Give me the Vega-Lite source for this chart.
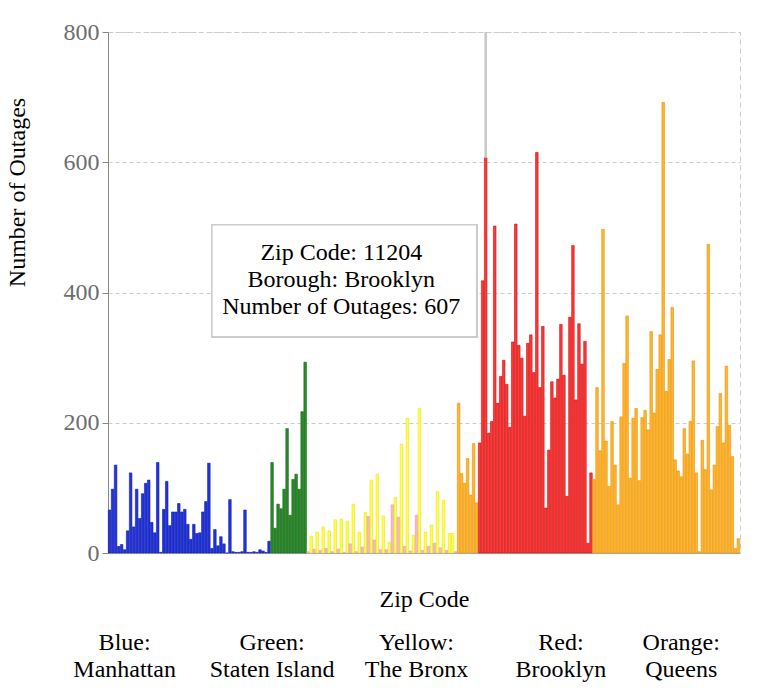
{
  "$schema": "https://vega.github.io/schema/vega-lite/v6.json",
  "width": 632,
  "height": 521,
  "autosize": {"type": "none"},
  "padding": {"left": 108, "top": 32, "right": 28, "bottom": 139},
  "config": {"view": {"stroke": "#cccccc", "strokeDash": [5, 4]}, "font": "Liberation Serif"},
  "data": {"values": [
    {"zip": "10001", "borough": "Manhattan", "outages": 66},
    {"zip": "10002", "borough": "Manhattan", "outages": 98},
    {"zip": "10003", "borough": "Manhattan", "outages": 135},
    {"zip": "10004", "borough": "Manhattan", "outages": 10},
    {"zip": "10005", "borough": "Manhattan", "outages": 13},
    {"zip": "10006", "borough": "Manhattan", "outages": 5},
    {"zip": "10007", "borough": "Manhattan", "outages": 34},
    {"zip": "10009", "borough": "Manhattan", "outages": 123},
    {"zip": "10010", "borough": "Manhattan", "outages": 40},
    {"zip": "10011", "borough": "Manhattan", "outages": 98},
    {"zip": "10012", "borough": "Manhattan", "outages": 53},
    {"zip": "10013", "borough": "Manhattan", "outages": 91},
    {"zip": "10014", "borough": "Manhattan", "outages": 107},
    {"zip": "10016", "borough": "Manhattan", "outages": 112},
    {"zip": "10017", "borough": "Manhattan", "outages": 47},
    {"zip": "10018", "borough": "Manhattan", "outages": 31},
    {"zip": "10019", "borough": "Manhattan", "outages": 139},
    {"zip": "10020", "borough": "Manhattan", "outages": 1},
    {"zip": "10021", "borough": "Manhattan", "outages": 67},
    {"zip": "10022", "borough": "Manhattan", "outages": 110},
    {"zip": "10023", "borough": "Manhattan", "outages": 42},
    {"zip": "10024", "borough": "Manhattan", "outages": 63},
    {"zip": "10025", "borough": "Manhattan", "outages": 63},
    {"zip": "10026", "borough": "Manhattan", "outages": 76},
    {"zip": "10027", "borough": "Manhattan", "outages": 63},
    {"zip": "10028", "borough": "Manhattan", "outages": 67},
    {"zip": "10029", "borough": "Manhattan", "outages": 44},
    {"zip": "10030", "borough": "Manhattan", "outages": 21},
    {"zip": "10031", "borough": "Manhattan", "outages": 44},
    {"zip": "10032", "borough": "Manhattan", "outages": 30},
    {"zip": "10033", "borough": "Manhattan", "outages": 31},
    {"zip": "10034", "borough": "Manhattan", "outages": 63},
    {"zip": "10035", "borough": "Manhattan", "outages": 79},
    {"zip": "10036", "borough": "Manhattan", "outages": 138},
    {"zip": "10037", "borough": "Manhattan", "outages": 7},
    {"zip": "10038", "borough": "Manhattan", "outages": 36},
    {"zip": "10039", "borough": "Manhattan", "outages": 11},
    {"zip": "10040", "borough": "Manhattan", "outages": 25},
    {"zip": "10044", "borough": "Manhattan", "outages": 14},
    {"zip": "10045", "borough": "Manhattan", "outages": 0},
    {"zip": "10065", "borough": "Manhattan", "outages": 82},
    {"zip": "10069", "borough": "Manhattan", "outages": 2},
    {"zip": "10103", "borough": "Manhattan", "outages": 1},
    {"zip": "10110", "borough": "Manhattan", "outages": 1},
    {"zip": "10111", "borough": "Manhattan", "outages": 2},
    {"zip": "10128", "borough": "Manhattan", "outages": 66},
    {"zip": "10152", "borough": "Manhattan", "outages": 1},
    {"zip": "10153", "borough": "Manhattan", "outages": 1},
    {"zip": "10154", "borough": "Manhattan", "outages": 2},
    {"zip": "10162", "borough": "Manhattan", "outages": 1},
    {"zip": "10165", "borough": "Manhattan", "outages": 5},
    {"zip": "10167", "borough": "Manhattan", "outages": 3},
    {"zip": "10168", "borough": "Manhattan", "outages": 1},
    {"zip": "10280", "borough": "Manhattan", "outages": 18},
    {"zip": "10301", "borough": "Staten Island", "outages": 139},
    {"zip": "10302", "borough": "Staten Island", "outages": 38},
    {"zip": "10303", "borough": "Staten Island", "outages": 75},
    {"zip": "10304", "borough": "Staten Island", "outages": 68},
    {"zip": "10305", "borough": "Staten Island", "outages": 98},
    {"zip": "10306", "borough": "Staten Island", "outages": 191},
    {"zip": "10307", "borough": "Staten Island", "outages": 58},
    {"zip": "10308", "borough": "Staten Island", "outages": 113},
    {"zip": "10309", "borough": "Staten Island", "outages": 121},
    {"zip": "10310", "borough": "Staten Island", "outages": 98},
    {"zip": "10312", "borough": "Staten Island", "outages": 217},
    {"zip": "10314", "borough": "Staten Island", "outages": 293},
    {"zip": "10451", "borough": "Unknown", "outages": 2},
    {"zip": "10451", "borough": "Bronx", "outages": 26},
    {"zip": "10452", "borough": "Unknown", "outages": 6},
    {"zip": "10452", "borough": "Bronx", "outages": 32},
    {"zip": "10453", "borough": "Unknown", "outages": 4},
    {"zip": "10453", "borough": "Bronx", "outages": 40},
    {"zip": "10454", "borough": "Unknown", "outages": 7},
    {"zip": "10454", "borough": "Bronx", "outages": 34},
    {"zip": "10455", "borough": "Unknown", "outages": 2},
    {"zip": "10455", "borough": "Bronx", "outages": 51},
    {"zip": "10456", "borough": "Unknown", "outages": 6},
    {"zip": "10456", "borough": "Bronx", "outages": 52},
    {"zip": "10457", "borough": "Unknown", "outages": 1},
    {"zip": "10457", "borough": "Bronx", "outages": 49},
    {"zip": "10458", "borough": "Unknown", "outages": 14},
    {"zip": "10458", "borough": "Bronx", "outages": 75},
    {"zip": "10459", "borough": "Unknown", "outages": 2},
    {"zip": "10459", "borough": "Bronx", "outages": 32},
    {"zip": "10460", "borough": "Unknown", "outages": 9},
    {"zip": "10460", "borough": "Bronx", "outages": 62},
    {"zip": "10461", "borough": "Unknown", "outages": 56},
    {"zip": "10461", "borough": "Bronx", "outages": 112},
    {"zip": "10462", "borough": "Unknown", "outages": 20},
    {"zip": "10462", "borough": "Bronx", "outages": 121},
    {"zip": "10463", "borough": "Unknown", "outages": 5},
    {"zip": "10463", "borough": "Bronx", "outages": 57},
    {"zip": "10464", "borough": "Unknown", "outages": 5},
    {"zip": "10464", "borough": "Bronx", "outages": 16},
    {"zip": "10465", "borough": "Unknown", "outages": 74},
    {"zip": "10465", "borough": "Bronx", "outages": 85},
    {"zip": "10466", "borough": "Unknown", "outages": 55},
    {"zip": "10466", "borough": "Bronx", "outages": 167},
    {"zip": "10467", "borough": "Unknown", "outages": 10},
    {"zip": "10467", "borough": "Bronx", "outages": 207},
    {"zip": "10468", "borough": "Unknown", "outages": 3},
    {"zip": "10468", "borough": "Bronx", "outages": 27},
    {"zip": "10469", "borough": "Unknown", "outages": 58},
    {"zip": "10469", "borough": "Bronx", "outages": 222},
    {"zip": "10470", "borough": "Unknown", "outages": 4},
    {"zip": "10470", "borough": "Bronx", "outages": 32},
    {"zip": "10471", "borough": "Unknown", "outages": 10},
    {"zip": "10471", "borough": "Bronx", "outages": 43},
    {"zip": "10472", "borough": "Unknown", "outages": 15},
    {"zip": "10472", "borough": "Bronx", "outages": 94},
    {"zip": "10473", "borough": "Unknown", "outages": 8},
    {"zip": "10473", "borough": "Bronx", "outages": 81},
    {"zip": "10474", "borough": "Unknown", "outages": 4},
    {"zip": "10474", "borough": "Bronx", "outages": 30},
    {"zip": "10475", "borough": "Bronx", "outages": 30},
    {"zip": "10475", "borough": "Unknown", "outages": 2},
    {"zip": "11004", "borough": "Queens", "outages": 230},
    {"zip": "11101", "borough": "Queens", "outages": 122},
    {"zip": "11102", "borough": "Queens", "outages": 107},
    {"zip": "11103", "borough": "Queens", "outages": 145},
    {"zip": "11104", "borough": "Queens", "outages": 89},
    {"zip": "11105", "borough": "Queens", "outages": 168},
    {"zip": "11106", "borough": "Queens", "outages": 77},
    {"zip": "11201", "borough": "Brooklyn", "outages": 169},
    {"zip": "11203", "borough": "Brooklyn", "outages": 418},
    {"zip": "11204", "borough": "Brooklyn", "outages": 607},
    {"zip": "11205", "borough": "Brooklyn", "outages": 184},
    {"zip": "11206", "borough": "Brooklyn", "outages": 202},
    {"zip": "11207", "borough": "Brooklyn", "outages": 502},
    {"zip": "11208", "borough": "Brooklyn", "outages": 230},
    {"zip": "11209", "borough": "Brooklyn", "outages": 271},
    {"zip": "11210", "borough": "Brooklyn", "outages": 296},
    {"zip": "11211", "borough": "Brooklyn", "outages": 259},
    {"zip": "11212", "borough": "Brooklyn", "outages": 193},
    {"zip": "11213", "borough": "Brooklyn", "outages": 324},
    {"zip": "11214", "borough": "Brooklyn", "outages": 505},
    {"zip": "11215", "borough": "Brooklyn", "outages": 319},
    {"zip": "11216", "borough": "Brooklyn", "outages": 299},
    {"zip": "11217", "borough": "Brooklyn", "outages": 210},
    {"zip": "11218", "borough": "Brooklyn", "outages": 322},
    {"zip": "11219", "borough": "Brooklyn", "outages": 335},
    {"zip": "11220", "borough": "Brooklyn", "outages": 277},
    {"zip": "11221", "borough": "Brooklyn", "outages": 615},
    {"zip": "11222", "borough": "Brooklyn", "outages": 254},
    {"zip": "11223", "borough": "Brooklyn", "outages": 348},
    {"zip": "11224", "borough": "Brooklyn", "outages": 69},
    {"zip": "11225", "borough": "Brooklyn", "outages": 158},
    {"zip": "11226", "borough": "Brooklyn", "outages": 263},
    {"zip": "11228", "borough": "Brooklyn", "outages": 238},
    {"zip": "11229", "borough": "Brooklyn", "outages": 267},
    {"zip": "11230", "borough": "Brooklyn", "outages": 351},
    {"zip": "11231", "borough": "Brooklyn", "outages": 273},
    {"zip": "11232", "borough": "Brooklyn", "outages": 87},
    {"zip": "11233", "borough": "Brooklyn", "outages": 362},
    {"zip": "11234", "borough": "Brooklyn", "outages": 472},
    {"zip": "11235", "borough": "Brooklyn", "outages": 235},
    {"zip": "11236", "borough": "Brooklyn", "outages": 352},
    {"zip": "11237", "borough": "Brooklyn", "outages": 290},
    {"zip": "11238", "borough": "Brooklyn", "outages": 325},
    {"zip": "11239", "borough": "Brooklyn", "outages": 15},
    {"zip": "11249", "borough": "Brooklyn", "outages": 123},
    {"zip": "11354", "borough": "Queens", "outages": 113},
    {"zip": "11355", "borough": "Queens", "outages": 254},
    {"zip": "11356", "borough": "Queens", "outages": 157},
    {"zip": "11357", "borough": "Queens", "outages": 497},
    {"zip": "11358", "borough": "Queens", "outages": 172},
    {"zip": "11360", "borough": "Queens", "outages": 102},
    {"zip": "11361", "borough": "Queens", "outages": 202},
    {"zip": "11362", "borough": "Queens", "outages": 135},
    {"zip": "11363", "borough": "Queens", "outages": 74},
    {"zip": "11364", "borough": "Queens", "outages": 209},
    {"zip": "11365", "borough": "Queens", "outages": 291},
    {"zip": "11366", "borough": "Queens", "outages": 364},
    {"zip": "11367", "borough": "Queens", "outages": 115},
    {"zip": "11368", "borough": "Queens", "outages": 207},
    {"zip": "11369", "borough": "Queens", "outages": 222},
    {"zip": "11370", "borough": "Queens", "outages": 111},
    {"zip": "11372", "borough": "Queens", "outages": 208},
    {"zip": "11373", "borough": "Queens", "outages": 219},
    {"zip": "11374", "borough": "Queens", "outages": 189},
    {"zip": "11375", "borough": "Queens", "outages": 340},
    {"zip": "11377", "borough": "Queens", "outages": 215},
    {"zip": "11378", "borough": "Queens", "outages": 282},
    {"zip": "11379", "borough": "Queens", "outages": 335},
    {"zip": "11385", "borough": "Queens", "outages": 692},
    {"zip": "11411", "borough": "Queens", "outages": 248},
    {"zip": "11412", "borough": "Queens", "outages": 297},
    {"zip": "11413", "borough": "Queens", "outages": 377},
    {"zip": "11414", "borough": "Queens", "outages": 143},
    {"zip": "11415", "borough": "Queens", "outages": 126},
    {"zip": "11416", "borough": "Queens", "outages": 117},
    {"zip": "11417", "borough": "Queens", "outages": 191},
    {"zip": "11418", "borough": "Queens", "outages": 152},
    {"zip": "11419", "borough": "Queens", "outages": 202},
    {"zip": "11420", "borough": "Queens", "outages": 295},
    {"zip": "11421", "borough": "Queens", "outages": 123},
    {"zip": "11422", "borough": "Queens", "outages": 2},
    {"zip": "11423", "borough": "Queens", "outages": 173},
    {"zip": "11426", "borough": "Queens", "outages": 128},
    {"zip": "11427", "borough": "Queens", "outages": 474},
    {"zip": "11428", "borough": "Queens", "outages": 97},
    {"zip": "11429", "borough": "Queens", "outages": 135},
    {"zip": "11432", "borough": "Queens", "outages": 194},
    {"zip": "11433", "borough": "Queens", "outages": 245},
    {"zip": "11434", "borough": "Queens", "outages": 169},
    {"zip": "11435", "borough": "Queens", "outages": 287},
    {"zip": "11436", "borough": "Queens", "outages": 196},
    {"zip": "11691", "borough": "Queens", "outages": 148},
    {"zip": "11692", "borough": "Queens", "outages": 7},
    {"zip": "11694", "borough": "Queens", "outages": 22}
  ]},
  "transform": [{"calculate": "datum.zip + ' ' + datum.borough", "as": "key"}],
  "layer": [
    {
      "mark": {"type": "bar", "strokeWidth": 0.6},
      "encoding": {
        "x": {
          "field": "key", "type": "nominal", "sort": null,
          "scale": {"paddingInner": 0.15, "paddingOuter": 0.1},
          "axis": {
            "title": "Zip Code",
            "values": ["10006 Manhattan", "10301 Staten Island", "10469 Unknown", "11230 Brooklyn", "11416 Queens"],
            "labelExpr": "datum.value == '10006 Manhattan' ? ['Blue:', 'Manhattan'] : datum.value == '10301 Staten Island' ? ['Green:', 'Staten Island'] : datum.value == '10469 Unknown' ? ['Yellow:', 'The Bronx'] : datum.value == '11230 Brooklyn' ? ['Red:', 'Brooklyn'] : ['Orange:', 'Queens']",
            "ticks": false,
            "grid": false,
            "domainColor": "#aaaaaa",
            "labelFont": "Liberation Serif",
            "labelFontSize": 24,
            "labelColor": "#000000",
            "labelAngle": 0,
            "labelPadding": 77,
            "labelLineHeight": 27,
            "labelOverlap": false,
            "labelBound": false,
            "labelFlush": false,
            "titleFont": "Liberation Serif",
            "titleFontSize": 24,
            "titleFontWeight": "normal",
            "titleColor": "#000000",
            "titleBaseline": "alphabetic",
            "titleY": 53
          }
        },
        "y": {
          "field": "outages", "type": "quantitative",
          "scale": {"domain": [0, 800]},
          "axis": {
            "title": "Number of Outages",
            "values": [0, 200, 400, 600, 800],
            "grid": true,
            "gridColor": "#cccccc",
            "gridDash": [4, 3],
            "domainColor": "#888888",
            "tickColor": "#888888",
            "tickSize": 6,
            "labelFont": "Liberation Serif",
            "labelFontSize": 24,
            "labelColor": "#6e6e6e",
            "labelPadding": 3,
            "titleFont": "Liberation Serif",
            "titleFontSize": 24,
            "titleFontWeight": "normal",
            "titleColor": "#000000",
            "titleAngle": -90,
            "titleAlign": "center",
            "titleBaseline": "alphabetic",
            "titleX": -84,
            "titleY": 160
          }
        },
        "color": {
          "field": "borough", "type": "nominal", "legend": null,
          "scale": {
            "domain": ["Manhattan", "Staten Island", "Bronx", "Unknown", "Brooklyn", "Queens"],
            "range": ["#2233dd", "#2a8a2a", "#ffff44", "#f5b8c4", "#ff3838", "#ffb52e"]
          }
        },
        "stroke": {
          "field": "borough", "type": "nominal", "legend": null,
          "scale": {
            "domain": ["Manhattan", "Staten Island", "Bronx", "Unknown", "Brooklyn", "Queens"],
            "range": ["#1020a8", "#1a661a", "#e8e020", "#e8a0b0", "#c41010", "#e89410"]
          }
        }
      }
    },
    {
      "transform": [{"filter": "datum.zip == '11204'"}],
      "mark": {"type": "rule", "color": "#c8c8c8", "strokeWidth": 2.5},
      "encoding": {
        "x": {"field": "key", "type": "nominal", "sort": null},
        "y": {"field": "outages", "type": "quantitative"},
        "y2": {"datum": 800}
      }
    },
    {
      "mark": {"type": "rect", "fill": "#ffffff", "stroke": "#cccccc", "strokeWidth": 1.5},
      "encoding": {
        "x": {"datum": "10037 Manhattan"},
        "x2": {"datum": "11106 Queens"},
        "y": {"datum": 504},
        "y2": {"datum": 332}
      }
    },
    {
      "transform": [
        {"filter": "datum.zip == '11204'"},
        {"calculate": "'Zip Code: ' + datum.zip + '\\n' + 'Borough: ' + datum.borough + '\\n' + 'Number of Outages: ' + datum.outages", "as": "label"}
      ],
      "mark": {"type": "text", "lineBreak": "\n", "font": "Liberation Serif", "fontSize": 24, "lineHeight": 27, "baseline": "middle", "align": "center", "color": "#000000"},
      "encoding": {
        "x": {"datum": "10456 Bronx"},
        "y": {"datum": 461},
        "text": {"field": "label", "type": "nominal"}
      }
    }
  ]
}
